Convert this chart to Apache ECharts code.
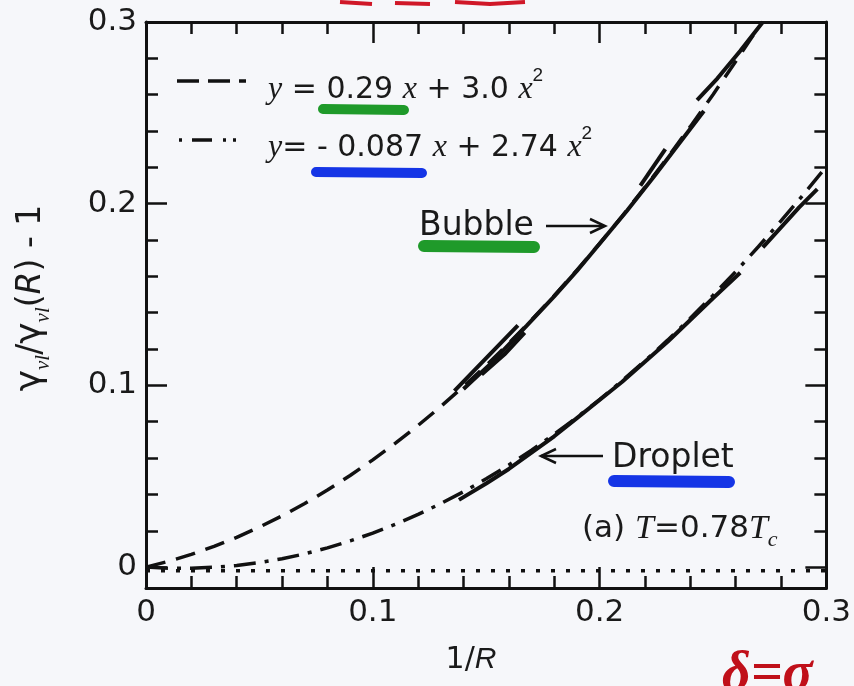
<!DOCTYPE html>
<html>
<head>
<meta charset="utf-8">
<script src="https://cdn.jsdelivr.net/npm/echarts@6/dist/echarts.min.js"></script>
<style>
html, body { margin: 0; padding: 0; background: #f6f7fa; }
#chart { width: 854px; height: 686px; }
</style>
</head>
<body>
<div id="chart"></div>
<script>
// fit curves, every 0.01 in 1/R
var fitX = [0, 0.01, 0.02, 0.03, 0.04, 0.05, 0.06, 0.07, 0.08, 0.09, 0.10, 0.11, 0.12, 0.13, 0.14,
  0.15, 0.16, 0.17, 0.18, 0.19, 0.20, 0.21, 0.22, 0.23, 0.24, 0.25, 0.26, 0.27, 0.28, 0.29, 0.30];
var bubbleFit = [0, 0.0032, 0.0070, 0.0114, 0.0164, 0.0220, 0.0282, 0.0350, 0.0424, 0.0504, 0.0590,
  0.0682, 0.0780, 0.0884, 0.0994, 0.1110, 0.1232, 0.1360, 0.1494, 0.1634, 0.1780, 0.1932, 0.2090,
  0.2254, 0.2424, 0.2600, 0.2782, 0.2970];
var dropletFit = [0, -0.0006, -0.0006, -0.0001, 0.0009, 0.0025, 0.0046, 0.0073, 0.0106, 0.0144, 0.0187,
  0.0236, 0.0290, 0.0350, 0.0415, 0.0486, 0.0562, 0.0644, 0.0731, 0.0824, 0.0922, 0.1026, 0.1135,
  0.1249, 0.1369, 0.1495, 0.1626, 0.1763, 0.1905, 0.2052, 0.2205];
var zeroLine = [[0, -0.002], [0.3, -0.002]];

// simulation data (solid pieces)
var bubbleRuns = [
  [[0.136, 0.097], [0.150, 0.115], [0.164, 0.133]],
  [[0.148, 0.106], [0.158, 0.117], [0.167, 0.129]],
  [[0.140, 0.098], [0.152, 0.112], [0.168, 0.133], [0.180, 0.149], [0.190, 0.163], [0.200, 0.178],
   [0.212, 0.196], [0.224, 0.215], [0.235, 0.233], [0.246, 0.251]],
  [[0.218, 0.210], [0.229, 0.230]],
  [[0.243, 0.257], [0.252, 0.269], [0.262, 0.284], [0.272, 0.300]]
];
var dropletRuns = [
  [[0.138, 0.037], [0.150, 0.046], [0.160, 0.054], [0.170, 0.063], [0.180, 0.072], [0.190, 0.082],
   [0.200, 0.092], [0.210, 0.102], [0.220, 0.113], [0.230, 0.124], [0.240, 0.136], [0.250, 0.148],
   [0.262, 0.162]],
  [[0.272, 0.176], [0.280, 0.187], [0.288, 0.198], [0.296, 0.208]]
];

var yMajor = [0, 0.1, 0.2, 0.3];
var yMinor = [0.02, 0.04, 0.06, 0.08, 0.12, 0.14, 0.16, 0.18, 0.22, 0.24, 0.26, 0.28];

var INK = "#111";
var myChart = echarts.init(document.getElementById("chart"));

function tickLabel(v) {
  return v === 0 ? "0" : v.toFixed(1);
}

function xAx(pos, labels) {
  return {
    type: "value", position: pos, min: 0, max: 0.3, interval: 0.1,
    axisLine: { onZero: false, lineStyle: { color: INK, width: 3 } },
    axisTick: { inside: true, length: 21, lineStyle: { color: INK, width: 2.5 } },
    minorTick: { show: true, splitNumber: 5, length: 12, lineStyle: { color: INK, width: 2.5 } },
    splitLine: { show: false },
    axisLabel: { show: labels, fontSize: 31, color: "#1a1a1a", fontFamily: "DejaVu Sans",
      margin: 9, formatter: tickLabel }
  };
}

function yAx(pos, ticks, len, labels, line) {
  return {
    type: "value", position: pos, min: -0.0115, max: 0.3,
    axisLine: { show: line, onZero: false, lineStyle: { color: INK, width: 3 } },
    axisTick: { inside: true, length: len, customValues: ticks, lineStyle: { color: INK, width: 2.5 } },
    splitLine: { show: false },
    axisLabel: { show: labels, customValues: ticks, fontSize: 31, color: "#1a1a1a",
      fontFamily: "DejaVu Sans", margin: 9, formatter: tickLabel }
  };
}

function lineSeries(data, width, type) {
  return {
    type: "line", data: data, xAxisIndex: 0, yAxisIndex: 0, symbol: "none",
    silent: true, clip: true,
    lineStyle: { color: INK, width: width, type: type }
  };
}

var series = [];
series.push(lineSeries(fitX.slice(0, bubbleFit.length).map(function (x, i) { return [x, bubbleFit[i]]; }), 3.5, [20, 11]));
series.push(lineSeries(fitX.map(function (x, i) { return [x, dropletFit[i]]; }), 3.5, [22, 9, 4, 9]));
series.push(lineSeries(zeroLine, 3.5, [4, 11]));
bubbleRuns.forEach(function (r) { series.push(lineSeries(r, 4, "solid")); });
dropletRuns.forEach(function (r) { series.push(lineSeries(r, 4, "solid")); });

var serif = "Liberation Serif";
var sans = "DejaVu Sans";

var graphic = [
  // legend
  { type: "line", shape: { x1: 177, y1: 81, x2: 246, y2: 81 },
    style: { stroke: INK, lineWidth: 3.5, lineDash: [22, 9] } },
  { type: "line", z: 1, shape: { x1: 323, y1: 109, x2: 404, y2: 110 },
    style: { stroke: "#1f9a2a", lineWidth: 10, lineCap: "round" } },
  { type: "text", z: 5, x: 268, y: 66,
    style: {
      text: "{i|y} = 0.29 {i|x} + 3.0 {i|x}{p|2}",
      font: "30px " + sans, fill: "#1a1a1a",
      rich: {
        i: { fontFamily: serif, fontStyle: "italic", fontSize: 32, lineHeight: 48 },
        p: { fontSize: 19, verticalAlign: "top", lineHeight: 18 }
      }, lineHeight: 48
    } },
  { type: "line", shape: { x1: 179, y1: 140, x2: 246, y2: 140 },
    style: { stroke: INK, lineWidth: 3.5, lineDash: [3, 10, 20, 11, 3, 7, 3, 40] } },
  { type: "line", z: 1, shape: { x1: 316, y1: 172, x2: 422, y2: 173 },
    style: { stroke: "#1535e6", lineWidth: 10, lineCap: "round" } },
  { type: "text", z: 5, x: 268, y: 124,
    style: {
      text: "{i|y}= - 0.087 {i|x} + 2.74 {i|x}{p|2}",
      font: "30px " + sans, fill: "#1a1a1a",
      rich: {
        i: { fontFamily: serif, fontStyle: "italic", fontSize: 32, lineHeight: 48 },
        p: { fontSize: 19, verticalAlign: "top", lineHeight: 18 }
      }, lineHeight: 48
    } },
  // annotations
  { type: "line", z: 1, shape: { x1: 424, y1: 246, x2: 534, y2: 247 },
    style: { stroke: "#1f9a2a", lineWidth: 12, lineCap: "round" } },
  { type: "text", z: 5, x: 419, y: 226,
    style: { text: "Bubble", font: "33px " + sans, fill: "#1a1a1a", verticalAlign: "middle" } },
  { type: "line", shape: { x1: 546, y1: 226, x2: 604, y2: 226 }, style: { stroke: INK, lineWidth: 2.5 } },
  { type: "polyline", shape: { points: [[590, 219], [605, 226], [590, 233]] },
    style: { stroke: INK, lineWidth: 2.5, fill: null } },
  { type: "line", z: 1, shape: { x1: 614, y1: 481, x2: 729, y2: 482 },
    style: { stroke: "#1535e6", lineWidth: 12, lineCap: "round" } },
  { type: "text", z: 5, x: 612, y: 458,
    style: { text: "Droplet", font: "33px " + sans, fill: "#1a1a1a", verticalAlign: "middle" } },
  { type: "line", shape: { x1: 541, y1: 456, x2: 603, y2: 456 }, style: { stroke: INK, lineWidth: 2.5 } },
  { type: "polyline", shape: { points: [[556, 449], [541, 456], [556, 463]] },
    style: { stroke: INK, lineWidth: 2.5, fill: null } },
  { type: "text", z: 5, x: 582, y: 507,
    style: {
      text: "(a) {i|T}=0.78{i|T}{b|c}",
      font: "31px " + sans, fill: "#1a1a1a", lineHeight: 44,
      rich: {
        i: { fontFamily: serif, fontStyle: "italic", fontSize: 34, lineHeight: 44 },
        b: { fontFamily: serif, fontStyle: "italic", fontSize: 22, verticalAlign: "bottom", lineHeight: 22 }
      }
    } },
  // axis titles
  { type: "text", x: 471, y: 660,
    style: {
      text: "1/{i|R}", font: "30px " + sans, fill: "#1a1a1a", align: "center", verticalAlign: "middle",
      rich: { i: { fontStyle: "italic", fontSize: 30 } }
    } },
  { type: "text", x: 31, y: 298, rotation: Math.PI / 2,
    style: {
      text: "{g|γ}{s|νl}{n|/}{g|γ}{s|νl}{n|(}{r|R}{n|) - 1}",
      fill: "#1a1a1a", align: "center", verticalAlign: "middle",
      rich: {
        g: { fontFamily: sans, fontSize: 36, lineHeight: 46 },
        n: { fontFamily: sans, fontSize: 33, lineHeight: 46 },
        r: { fontFamily: sans, fontStyle: "italic", fontSize: 33, lineHeight: 46 },
        s: { fontFamily: serif, fontStyle: "italic", fontSize: 21, verticalAlign: "bottom", lineHeight: 20 }
      }
    } },
  // red pen marks
  { type: "text", x: 722, y: 648,
    style: { text: "δ=σ", font: "italic bold 56px " + serif, fill: "#c0101a" } },
  { type: "polyline", shape: { points: [[340, 2], [372, 4]] },
    style: { stroke: "#d01828", lineWidth: 4, fill: null } },
  { type: "polyline", shape: { points: [[395, 3], [430, 4]] },
    style: { stroke: "#d01828", lineWidth: 4, fill: null } },
  { type: "polyline", shape: { points: [[455, 2], [490, 4], [525, 2]] },
    style: { stroke: "#d01828", lineWidth: 4, fill: null } }
];

var option = {
  backgroundColor: "#f6f7fa",
  animation: false,
  textStyle: { fontFamily: sans },
  grid: { left: 146, right: 27, top: 22, bottom: 98, containLabel: false },
  xAxis: [xAx("bottom", true), xAx("top", false)],
  yAxis: [
    yAx("left", yMajor, 21, true, true),
    yAx("left", yMinor, 12, false, false),
    yAx("right", yMajor, 21, false, true),
    yAx("right", yMinor, 12, false, false)
  ],
  series: series,
  graphic: graphic
};
myChart.setOption(option);
window.addEventListener("resize", function () { myChart.resize(); });
</script>
</body>
</html>
